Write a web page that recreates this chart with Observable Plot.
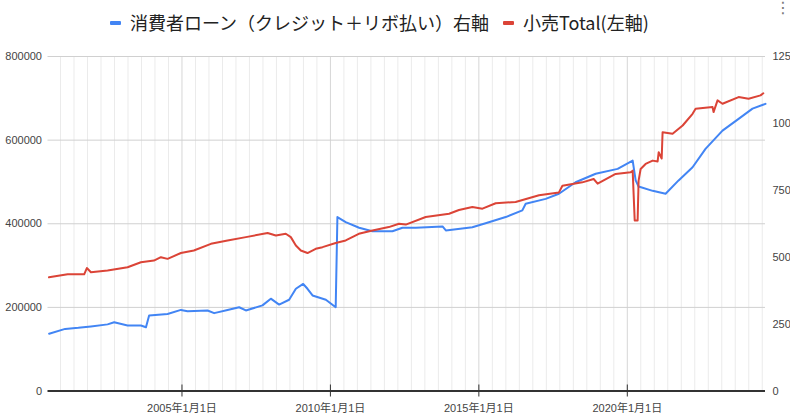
<!DOCTYPE html>
<html>
<head>
<meta charset="utf-8">
<script src="https://cdn.jsdelivr.net/npm/d3@7"></script>
<script src="https://cdn.jsdelivr.net/npm/@observablehq/plot@0.6"></script>
<style>
  html, body { margin: 0; padding: 0; background: #fff; overflow: hidden; }
  #wrap { position: relative; width: 790px; height: 420px; }
  #legend { position: relative; width: 790px; height: 44px; font-family: "Noto Sans CJK JP", "Liberation Sans", sans-serif; font-size: 18px; color: #222; }
  .sw { position: absolute; top: 21px; width: 11px; height: 4px; border-radius: 1px; }
  .lt { position: absolute; top: 9px; line-height: 26px; white-space: nowrap; }
  #menu { position: absolute; left: 775px; top: 0px; font-size: 16px; line-height: 16px; color: #777; font-family: "DejaVu Sans", sans-serif; }
  #chart svg { display: block; }
</style>
</head>
<body>
<div id="wrap">
  <div id="legend"></div>
  <div id="chart"></div>
</div>
<script>
// ---- data ----
const seriesNames = ["消費者ローン（クレジット＋リボ払い）右軸", "小売Total(左軸)"];
const seriesColors = ["#4285F4", "#DB4437"];

// 小売Total (left axis)
const retailDates = [
  "2000-07-10","2001-02-25","2001-09-16","2001-10-19","2001-12-08","2002-07-01","2003-03-04","2003-08-15",
  "2004-01-22","2004-04-17","2004-07-08","2004-12-19","2005-05-27","2005-12-23","2006-07-16","2007-02-26",
  "2007-11-20","2008-03-01","2008-07-01","2008-09-01","2008-11-02","2009-01-02","2009-03-25","2009-07-04",
  "2009-09-26","2010-03-07","2010-07-08","2010-12-16","2011-06-02","2011-12-20","2012-04-24","2012-07-16",
  "2013-03-18","2013-12-31","2014-05-01","2014-10-13","2015-02-14","2015-07-27","2016-03-28","2017-01-10",
  "2017-09-12","2017-10-25","2018-06-27","2018-11-13","2019-01-01","2019-08-10","2020-02-11","2020-03-07",
  "2020-04-01","2020-05-07","2020-05-19","2020-06-13","2020-08-13","2020-11-08","2021-01-08","2021-01-21",
  "2021-02-27","2021-03-10","2021-07-11","2021-11-12","2022-03-14","2022-04-20","2022-11-15","2022-11-27",
  "2023-01-15","2023-03-17","2023-10-01","2024-02-01","2024-06-27","2024-07-31"
];
const retailValues = [
  272000,279000,279000,294000,284000,288000,296000,308000,
  312000,320000,316000,330000,336000,352000,360000,368000,
  378000,372000,376000,368000,348000,336000,330000,340000,
  344000,354000,360000,376000,384000,392000,400000,398000,
  416000,424000,433000,440000,436000,449000,452000,468000,
  475000,491000,499000,507000,496000,519000,523000,527000,
  408000,408000,503000,531000,543000,551000,549000,571000,
  556000,619000,615000,635000,663000,675000,679000,667000,
  695000,687000,703000,699000,707000,712000
];

// 消費者ローン (right axis)
const loanDates = [
  "2000-07-12","2001-01-25","2001-07-06","2001-12-08","2002-07-01","2002-09-20","2003-03-04","2003-08-15",
  "2003-10-16","2003-11-24","2004-07-08","2004-12-19","2005-03-11","2005-11-12","2006-02-01","2006-07-16",
  "2006-12-05","2007-02-26","2007-09-18","2007-12-30","2008-04-10","2008-08-11","2008-11-02","2009-01-31",
  "2009-03-25","2009-05-26","2009-11-06","2010-03-07","2010-03-28","2010-07-08","2010-12-20","2011-06-02",
  "2012-02-03","2012-06-05","2012-11-16","2013-10-11","2013-11-21","2014-10-13","2015-03-25","2015-11-27",
  "2016-06-19","2016-07-30","2017-04-02","2017-09-12","2018-04-05","2018-12-08","2019-09-04","2020-03-07",
  "2020-04-13","2020-05-19","2020-11-08","2021-04-16","2021-09-23","2022-03-14","2022-08-20","2023-03-17",
  "2023-10-01","2024-03-20","2024-08-27"
];
const loanValues = [
  214,232,236,241,249,257,245,245,
  238,282,288,303,298,301,291,303,
  313,301,320,345,323,341,382,400,
  382,357,341,313,650,631,610,597,
  597,610,610,615,600,612,627,650,
  675,700,718,737,780,812,830,861,
  787,764,748,737,787,836,905,973,
  1017,1055,1073
];

const leftTicks = [0, 200000, 400000, 600000, 800000];
const rightTicks = [0, 250, 500, 750, 1000, 1250];
const xTickDates = ["2005-01-01", "2010-01-01", "2015-01-01", "2020-01-01"];
const xDomain = ["2000-06-28", "2024-08-27"];

// ---- build ----
const ratio = leftTicks[leftTicks.length - 1] / rightTicks[rightTicks.length - 1];
const retail = retailDates.map((d, i) => ({date: new Date(d), v: retailValues[i]}));
const loan = loanDates.map((d, i) => ({date: new Date(d), v: loanValues[i]}));
const majors = xTickDates.map(d => new Date(d));
const step = majors[1] - majors[0];
const dom = xDomain.map(d => new Date(d));
const minors = [];
for (let k = -1; k <= majors.length; k++) {
  const base = +majors[0] + k * step;
  for (let j = 1; j <= 10; j++) {
    const t = base + j * step / 11;
    if (t > +dom[0] && t < +dom[1]) minors.push(new Date(t));
  }
}

// legend
const legend = document.getElementById("legend");
legend.innerHTML = `
  <div class="sw" style="left:110px;background:${seriesColors[0]}"></div>
  <div class="lt" style="left:130px">${seriesNames[0]}</div>
  <div class="sw" style="left:503px;background:${seriesColors[1]}"></div>
  <div class="lt" style="left:523px">${seriesNames[1]}</div>
  <div id="menu">⋮</div>`;

const fmt = d3.utcFormat("%Y年%-m月%-d日");
const chart = Plot.plot({
  width: 790,
  height: 376,
  marginTop: 12,
  marginBottom: 29.5,
  marginLeft: 47.5,
  marginRight: 25,
  style: {fontFamily: "'Liberation Sans', 'Noto Sans CJK JP', sans-serif", fontSize: "11px", color: "#444", overflow: "hidden", background: "#fff"},
  x: {type: "utc", domain: dom, label: null},
  y: {domain: [0, 800000], label: null},
  marks: [
    Plot.ruleX(minors, {stroke: "#ebebeb", strokeWidth: 1}),
    Plot.ruleX(majors, {stroke: "#d6d6d6", strokeWidth: 1}),
    Plot.ruleY(leftTicks.slice(1), {stroke: "#d0d0d0", strokeWidth: 1}),
    Plot.axisY(leftTicks, {anchor: "left", label: null, tickSize: 0, tickPadding: 6, tickFormat: d => String(d), fill: "#444"}),
    Plot.axisY(rightTicks.map(v => v * ratio), {anchor: "right", label: null, tickSize: 0, tickPadding: 7, tickFormat: d => String(Math.round(d / ratio)), fill: "#444"}),
    Plot.axisX(majors, {anchor: "bottom", label: null, tickSize: 0, tickPadding: 13, tickFormat: fmt, fill: "#444"}),
    Plot.line(loan, {x: "date", y: d => d.v * ratio, stroke: seriesColors[0], strokeWidth: 2, strokeLinejoin: "round"}),
    Plot.line(retail, {x: "date", y: "v", stroke: seriesColors[1], strokeWidth: 2, strokeLinejoin: "round"}),
    Plot.ruleY([0], {stroke: "#333", strokeWidth: 2}),
    Plot.ruleX(majors, {y1: 0, y2: 0, insetTop: -6, insetBottom: -6, stroke: "#333", strokeWidth: 1})
  ]
});
document.getElementById("chart").appendChild(chart);
</script>
</body>
</html>
